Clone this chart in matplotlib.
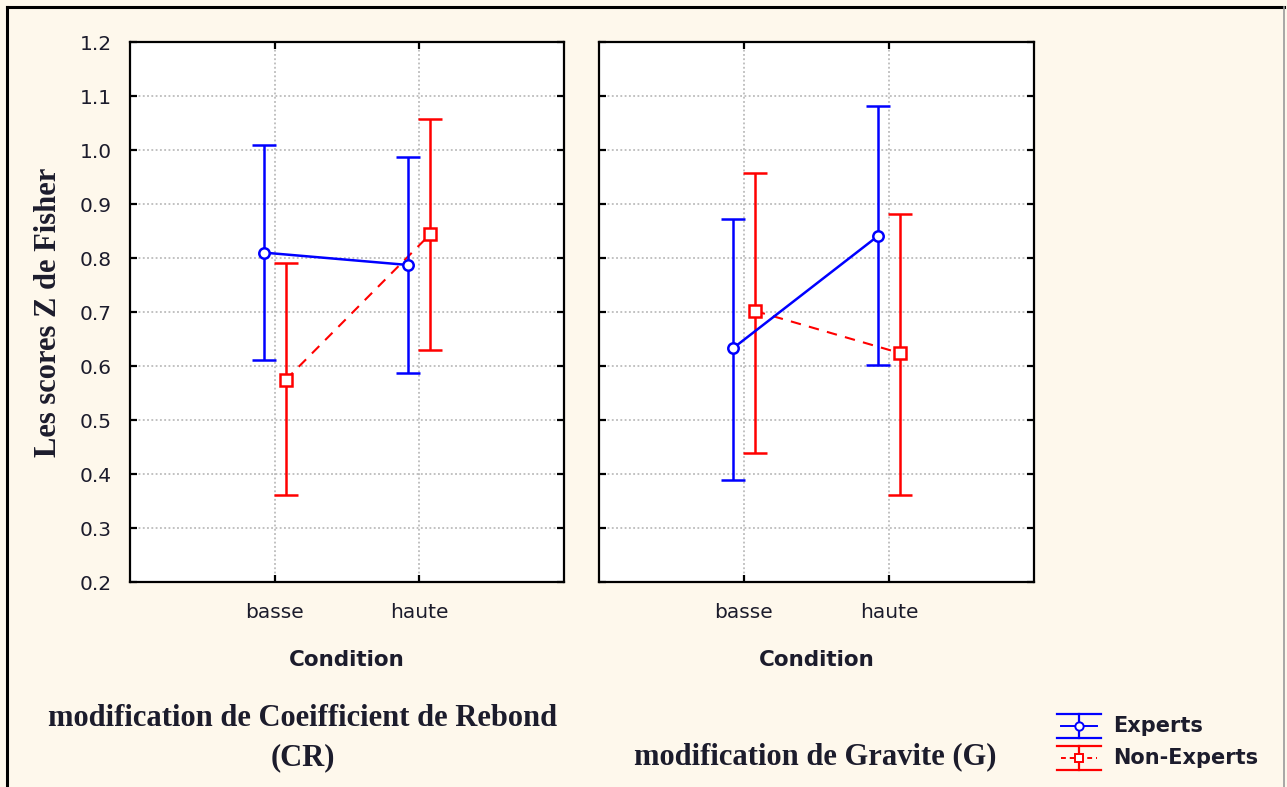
import matplotlib
matplotlib.use("Agg")
import matplotlib.pyplot as plt
from matplotlib.lines import Line2D
import numpy as np

# ---- data ----
conditions = ["basse", "haute"]
groups = ["Experts", "Non-Experts"]

cr_experts_mean = [0.81, 0.787]
cr_experts_low = [0.611, 0.587]
cr_experts_high = [1.009, 0.987]
cr_nonexp_mean = [0.574, 0.844]
cr_nonexp_low = [0.361, 0.630]
cr_nonexp_high = [0.791, 1.057]

g_experts_mean = [0.633, 0.841]
g_experts_low = [0.389, 0.602]
g_experts_high = [0.872, 1.081]
g_nonexp_mean = [0.702, 0.624]
g_nonexp_low = [0.439, 0.361]
g_nonexp_high = [0.957, 0.881]

yticks = [0.2, 0.3, 0.4, 0.5, 0.6, 0.7, 0.8, 0.9, 1.0, 1.1, 1.2]
panel_titles = ["modification de Coeifficient de Rebond\n(CR)", "modification de Gravite (G)"]
ylabel = "Les scores Z de Fisher"
xlabel = "Condition"

BG = "#FEF8EC"
TXT = "#1c1c2c"
BLUE = "#0000FF"
RED = "#FF0000"

fig = plt.figure(figsize=(12.87, 7.87), dpi=100, facecolor=BG)
W, H = 1287, 787

def fx(px):
    return px / W

def fy(py):
    return 1 - py / H

def ax_rect(x0, x1, y0, y1):
    return [x0 / W, 1 - y1 / H, (x1 - x0) / W, (y1 - y0) / H]

ax1 = fig.add_axes(ax_rect(130, 564, 42, 582))
ax2 = fig.add_axes(ax_rect(599, 1034, 42, 582))

panels = [
    (ax1, cr_experts_mean, cr_experts_low, cr_experts_high, cr_nonexp_mean, cr_nonexp_low, cr_nonexp_high),
    (ax2, g_experts_mean, g_experts_low, g_experts_high, g_nonexp_mean, g_nonexp_low, g_nonexp_high),
]

xpos = np.arange(1, len(conditions) + 1)
off = 0.075

for i, (ax, em, el, eh, nm, nl, nh) in enumerate(panels):
    ax.set_facecolor("white")
    ax.set_xlim(0, 3)
    ax.set_ylim(0.2, 1.2)
    ax.set_yticks(yticks)
    ax.set_xticks(xpos)
    ax.grid(True, color="#b0b0b0", linestyle=(0, (1.2, 1.6)), linewidth=1.1)
    ax.set_axisbelow(True)
    for sp in ax.spines.values():
        sp.set_linewidth(1.6)
        sp.set_color("black")
    ax.tick_params(direction="in", length=5, width=1.6, top=True, right=True,
                   labelsize=14.5, labelcolor=TXT, colors="black")
    ax.tick_params(axis="y", pad=13)
    ax.tick_params(axis="x", pad=15)
    ax.set_xticklabels(conditions)
    if i == 0:
        ax.set_yticklabels([f"{v:.1f}" for v in yticks])
    else:
        ax.set_yticklabels([])
    ax.set_xlabel(xlabel, fontsize=15.5, fontweight="bold", color=TXT, labelpad=20)

    em = np.array(em); el = np.array(el); eh = np.array(eh)
    nm = np.array(nm); nl = np.array(nl); nh = np.array(nh)
    ax.errorbar(xpos + off, nm, yerr=[nm - nl, nh - nm], color=RED, linestyle=(0, (5, 4)),
                linewidth=1.5, capsize=8.5, capthick=1.8, elinewidth=1.8,
                marker="s", markersize=8, markerfacecolor="white", markeredgecolor=RED,
                markeredgewidth=1.8, zorder=3)
    ax.errorbar(xpos - off, em, yerr=[em - el, eh - em], color=BLUE, linestyle="-",
                linewidth=1.8, capsize=8.5, capthick=1.8, elinewidth=1.8,
                marker="o", markersize=7.5, markerfacecolor="white", markeredgecolor=BLUE,
                markeredgewidth=1.8, zorder=4)

ax1.set_ylabel(ylabel, fontsize=22, fontweight="bold", family="Liberation Serif",
               color=TXT, labelpad=12)

fig.text(fx(303), fy(738), panel_titles[0], ha="center", va="center",
         fontsize=22, fontweight="bold", family="Liberation Serif", color=TXT,
         linespacing=1.45)
fig.text(fx(815), fy(757), panel_titles[1], ha="center", va="center",
         fontsize=22, fontweight="bold", family="Liberation Serif", color=TXT)

# legend drawn as error-bar glyphs with labels
legend_rows = [(groups[0], BLUE, "-", "o", 726), (groups[1], RED, (0, (2.5, 2)), "s", 758)]
gx0, gx1 = 1057, 1101
gcx = (gx0 + gx1) / 2
for label, col, ls, mk, yc in legend_rows:
    top, bot = yc - 12, yc + 12
    for yy in (top, bot):
        fig.add_artist(Line2D([fx(gx0), fx(gx1)], [fy(yy), fy(yy)], color=col, lw=1.6,
                              transform=fig.transFigure))
    fig.add_artist(Line2D([fx(gcx), fx(gcx)], [fy(top), fy(bot)], color=col, lw=1.6,
                          transform=fig.transFigure))
    fig.add_artist(Line2D([fx(gx0 + 4), fx(gx1 - 4)], [fy(yc), fy(yc)], color=col, lw=1.4,
                          linestyle=ls, transform=fig.transFigure))
    fig.add_artist(Line2D([fx(gcx)], [fy(yc)], color=col, marker=mk, markersize=6,
                          markerfacecolor="white", markeredgewidth=1.4,
                          transform=fig.transFigure))
    fig.text(fx(1113), fy(yc), label, ha="left", va="center", fontsize=15,
             fontweight="bold", color=TXT)

# outer frame
fig.add_artist(Line2D([fx(7), fx(7)], [0, fy(7)], color="black", lw=2.2, transform=fig.transFigure))
fig.add_artist(Line2D([fx(7), fx(1284)], [fy(7), fy(7)], color="black", lw=2.2, transform=fig.transFigure))
fig.add_artist(Line2D([fx(1284), fx(1284)], [0, fy(7)], color="#9a9a9a", lw=1.2, transform=fig.transFigure))

fig.savefig("out.png", dpi=100, facecolor=BG)
